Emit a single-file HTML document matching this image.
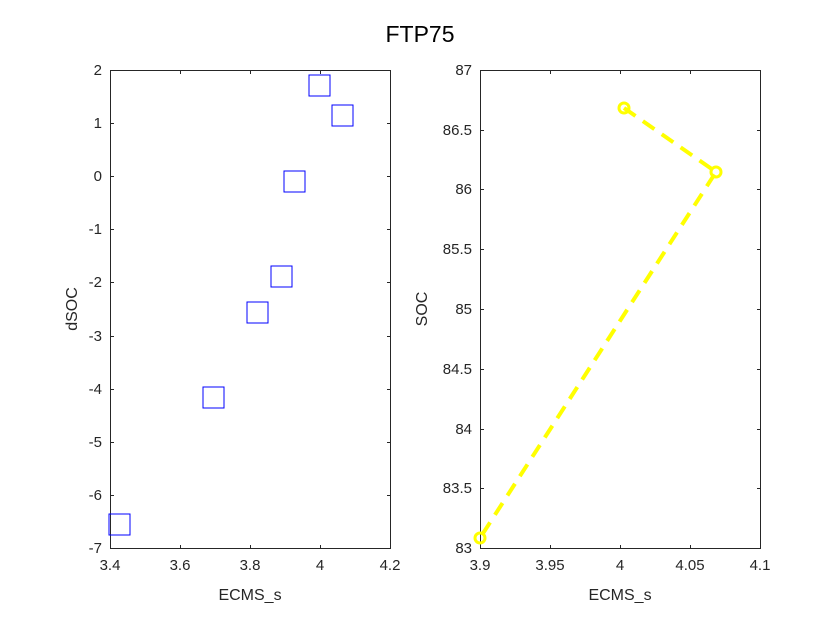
<!DOCTYPE html>
<html><head><style>body{margin:0;background:#fff}svg{display:block}</style></head>
<body>
<svg width="840" height="630" xmlns="http://www.w3.org/2000/svg" font-family="Liberation Sans, sans-serif" fill="#262626">
<rect width="840" height="630" fill="#fff"/>
<text x="420" y="42" font-size="23" text-anchor="middle" fill="#000">FTP75</text>
<!-- Left axes -->
<g stroke="#262626" stroke-width="1" fill="none">
<rect x="110.5" y="70.5" width="280" height="478"/>
<path d="M180.5 548v-3M250.5 548v-3M320.5 548v-3M180.5 71v3M250.5 71v3M320.5 71v3
M111 123.5h3M111 176.5h3M111 229.5h3M111 282.5h3M111 336.5h3M111 389.5h3M111 442.5h3M111 495.5h3
M390 123.5h-3M390 176.5h-3M390 229.5h-3M390 282.5h-3M390 336.5h-3M390 389.5h-3M390 442.5h-3M390 495.5h-3"/>
</g>
<g font-size="15" text-anchor="end">
<text x="102" y="75">2</text><text x="102" y="128">1</text><text x="102" y="181">0</text>
<text x="102" y="234">-1</text><text x="102" y="287">-2</text><text x="102" y="341">-3</text>
<text x="102" y="394">-4</text><text x="102" y="447">-5</text><text x="102" y="500">-6</text><text x="102" y="553">-7</text>
</g>
<g font-size="15" text-anchor="middle">
<text x="110" y="570">3.4</text><text x="180" y="570">3.6</text><text x="250" y="570">3.8</text><text x="320" y="570">4</text><text x="390" y="570">4.2</text>
</g>
<text x="250" y="600" font-size="16" text-anchor="middle">ECMS_s</text>
<text transform="translate(77,309) rotate(-90)" font-size="16" text-anchor="middle">dSOC</text>
<g stroke="#0000ff" stroke-width="1" fill="none">
<rect x="309" y="75" width="21" height="21"/>
<rect x="332" y="105" width="21" height="21"/>
<rect x="284" y="171" width="21" height="21"/>
<rect x="271" y="266" width="21" height="21"/>
<rect x="247" y="302" width="21" height="21"/>
<rect x="203" y="387" width="21" height="21"/>
<rect x="109" y="514" width="21" height="21"/>
</g>
<!-- Right axes -->
<g stroke="#262626" stroke-width="1" fill="none">
<rect x="480.5" y="70.5" width="280" height="478"/>
<path d="M550.5 548v-3M620.5 548v-3M690.5 548v-3M550.5 71v3M620.5 71v3M690.5 71v3
M481 130.5h3M481 189.5h3M481 249.5h3M481 309.5h3M481 369.5h3M481 429.5h3M481 488.5h3
M760 130.5h-3M760 189.5h-3M760 249.5h-3M760 309.5h-3M760 369.5h-3M760 429.5h-3M760 488.5h-3"/>
</g>
<g font-size="15" text-anchor="end">
<text x="472" y="75">87</text><text x="472" y="135">86.5</text><text x="472" y="194">86</text>
<text x="472" y="254">85.5</text><text x="472" y="314">85</text><text x="472" y="374">84.5</text>
<text x="472" y="434">84</text><text x="472" y="493">83.5</text><text x="472" y="553">83</text>
</g>
<g font-size="15" text-anchor="middle">
<text x="480" y="570">3.9</text><text x="550" y="570">3.95</text><text x="620" y="570">4</text><text x="690" y="570">4.05</text><text x="760" y="570">4.1</text>
</g>
<text x="620" y="600" font-size="16" text-anchor="middle">ECMS_s</text>
<text transform="translate(427,309) rotate(-90)" font-size="16" text-anchor="middle">SOC</text>
<polyline points="624,108 716,172 480,538" fill="none" stroke="#ffff00" stroke-width="4" stroke-dasharray="14,9"/>
<g fill="none" stroke="#ffff00" stroke-width="3">
<circle cx="624" cy="108" r="5"/><circle cx="716" cy="172" r="5"/><circle cx="480" cy="538" r="5"/>
</g>
</svg>
</body></html>
